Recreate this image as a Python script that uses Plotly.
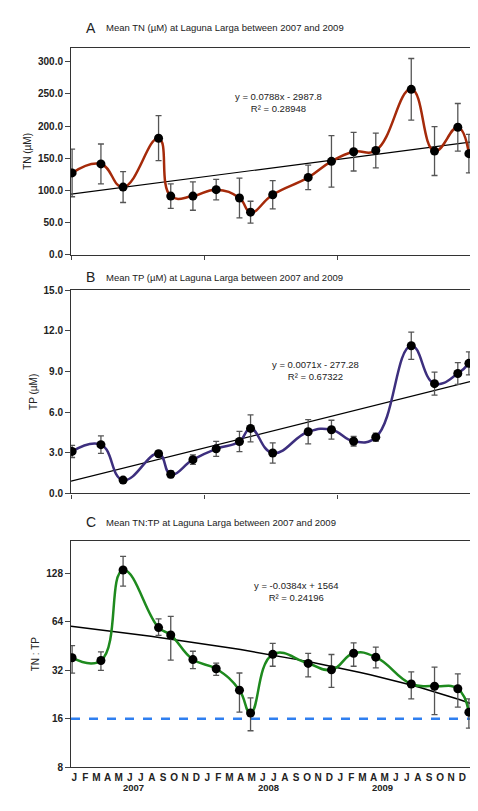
import plotly.graph_objects as go

# month index (0 = Jan 2007)
months = [0.1, 2.7, 4.7, 7.9, 9.0, 11.0, 13.1, 15.2, 16.2, 18.2, 21.4, 23.5, 25.5, 27.5, 30.7, 32.8, 34.9, 35.9]

tn = [127, 141, 105, 181, 91, 91, 101, 88, 66, 93, 120, 145, 160, 162, 257, 161, 198, 157]
tn_err = [37, 31, 24, 35, 19, 22, 16, 31, 17, 22, 19, 40, 30, 27, 48, 38, 37, 30]
tn_trend = [94, 175]

tp = [3.1, 3.6, 0.98, 2.93, 1.41, 2.49, 3.29, 3.83, 4.8, 2.98, 4.55, 4.7, 3.85, 4.15, 10.9, 8.1, 8.85, 9.6]
tp_err = [0.45, 0.65, 0.1, 0.2, 0.25, 0.35, 0.55, 0.75, 1.0, 0.75, 0.9, 0.7, 0.35, 0.3, 1.0, 0.85, 0.8, 0.85]
tp_trend = [0.9, 8.25]

ratio = [38.3, 36.8, 134, 58.9, 53, 37.3, 32.7, 24.1, 17.4, 40.2, 35.3, 32.2, 40.8, 38.6, 26.3, 25.5, 24.6, 17.6]
ratio_hi = [45.5, 41.6, 162.7, 66.6, 69.2, 42, 35.5, 30.8, 21.6, 47, 40.7, 40.1, 47.3, 44.5, 31.3, 33.5, 30.4, 21.3]
ratio_lo = [30.7, 32, 106.6, 52.7, 37, 32.8, 29.8, 17.6, 13.5, 33.9, 29.1, 25.1, 33.9, 33.1, 21.3, 17.0, 18.9, 14.0]
ratio_trend = [60, 20]
redfield = 16

month_letters = list("JFMAMJJASOND") * 3
years = ["2007", "2008", "2009"]
year_x = [5.6, 17.8, 28.1]

fig = go.Figure()
err_style = dict(color="#555555", thickness=1.3, width=3)
mk = dict(color="black", size=9)

def add_panel(y, err, color, trend, xa, ya):
    fig.add_trace(go.Scatter(x=[0, 36], y=trend, mode="lines", line=dict(color="black", width=1.2),
                             xaxis=xa, yaxis=ya, showlegend=False, hoverinfo="skip"))
    fig.add_trace(go.Scatter(x=months, y=y, mode="lines+markers",
                             line=dict(color=color, width=2.5, shape="spline", smoothing=1.3),
                             marker=mk, error_y=dict(type="data", array=err, visible=True, **err_style),
                             xaxis=xa, yaxis=ya, showlegend=False))

add_panel(tn, tn_err, "#A52A0A", tn_trend, "x", "y")
add_panel(tp, tp_err, "#3D2F7E", tp_trend, "x2", "y2")
tx = [i * 36 / 40 for i in range(41)]
fig.add_trace(go.Scatter(x=tx, y=[ratio_trend[0] + (ratio_trend[1] - ratio_trend[0]) * t / 36 for t in tx],
                         mode="lines", line=dict(color="black", width=1.5), xaxis="x3", yaxis="y3",
                         showlegend=False, hoverinfo="skip"))
fig.add_trace(go.Scatter(x=[0, 36], y=[redfield, redfield], mode="lines",
                         line=dict(color="#2F7FF0", width=2.5, dash="dash"), xaxis="x3", yaxis="y3", showlegend=False))
fig.add_trace(go.Scatter(x=months, y=ratio, mode="lines+markers",
                         line=dict(color="#1E8A1E", width=2.5, shape="spline", smoothing=1.3),
                         marker=mk, xaxis="x3", yaxis="y3", showlegend=False,
                         error_y=dict(type="data", symmetric=False,
                                      array=[h - v for h, v in zip(ratio_hi, ratio)],
                                      arrayminus=[v - l for l, v in zip(ratio_lo, ratio)], **err_style)))

F = "Arial, Liberation Sans, sans-serif"
BF = dict(size=10, family=F, color="#222", weight="bold")
ax_common = dict(showline=True, linecolor="#333", linewidth=1.2, mirror=True, showgrid=False, zeroline=False,
                 range=[0, 36], ticks="outside", ticklen=4)
ycom = dict(showline=True, linecolor="#333", mirror=True, showgrid=False, zeroline=False,
            ticks="outside", tickfont=BF)
fig.update_layout(
    width=478, height=811, margin=dict(l=63, r=16, t=0, b=0),
    plot_bgcolor="white", paper_bgcolor="white", font=dict(family=F, color="#222", size=10),
    xaxis=dict(domain=[0, 1], anchor="y", tickvals=[0, 12, 24], showticklabels=False, **ax_common),
    yaxis=dict(domain=[0.698, 0.956], range=[0, 321], tickvals=[0, 50, 100, 150, 200, 250, 300],
               tickformat=".1f", title=dict(text="TN (µM)", font=dict(size=10), standoff=4), **ycom),
    xaxis2=dict(domain=[0, 1], anchor="y2", tickvals=[0, 12, 24], showticklabels=False, **ax_common),
    yaxis2=dict(domain=[0.3995, 0.6535], range=[0, 15], tickvals=[0, 3, 6, 9, 12, 15], tickformat=".1f",
                title=dict(text="TP (µM)", font=dict(size=10), standoff=4), **ycom),
    xaxis3=dict(domain=[0, 1], anchor="y3", tickvals=[i + 0.3 for i in range(36)], ticktext=month_letters,
                tickfont=BF, showline=True, linecolor="#333",
                linewidth=1.2, mirror=True, showgrid=False, zeroline=False, range=[0, 36], ticks=""),
    yaxis3=dict(domain=[0.057, 0.340], type="log", range=[0.903, 2.307], tickvals=[8, 16, 32, 64, 128],
                title=dict(text="TN : TP", font=dict(size=10), standoff=4), **ycom),
)

def px(x):
    return (x - 63) / (478 - 63 - 16)

ann = []
for letter, title, y in [("A", "Mean TN (µM) at Laguna Larga between 2007 and 2009", 15),
                         ("B", "Mean TP (µM) at Laguna Larga between 2007 and 2009", 268),
                         ("C", "Mean TN:TP at Laguna Larga between 2007 and 2009", 516)]:
    ann.append(dict(x=px(76), y=1 - y / 811, xref="paper", yref="paper", xanchor="left", yanchor="middle",
                    text=letter, showarrow=False, font=dict(size=14, color="#222")))
    ann.append(dict(x=px(96), y=1 - y / 811, xref="paper", yref="paper", xanchor="left", yanchor="middle",
                    text=title, showarrow=False, font=dict(size=9.5, color="#222")))
for x, y, t in [(270, 77, "y = 0.0788x - 2987.8<br>R² = 0.28948"),
                (307, 362, "y = 0.0071x - 277.28<br>R² = 0.67322"),
                (333, 600, "y = -0.0384x + 1564<br>R² = 0.24196")]:
    ann.append(dict(x=px(x), y=1 - y / 811, xref="paper", yref="paper", text=t, showarrow=False,
                    font=dict(size=9.5, color="#222"), align="center"))
for yr, xv in zip(years, year_x):
    ann.append(dict(x=xv, xref="x3", y=1 - 793 / 811, yref="paper", text="<b>" + yr + "</b>",
                    showarrow=False, font=dict(size=9.5, color="#222")))
fig.update_layout(annotations=ann)
fig.write_html("out.html")
